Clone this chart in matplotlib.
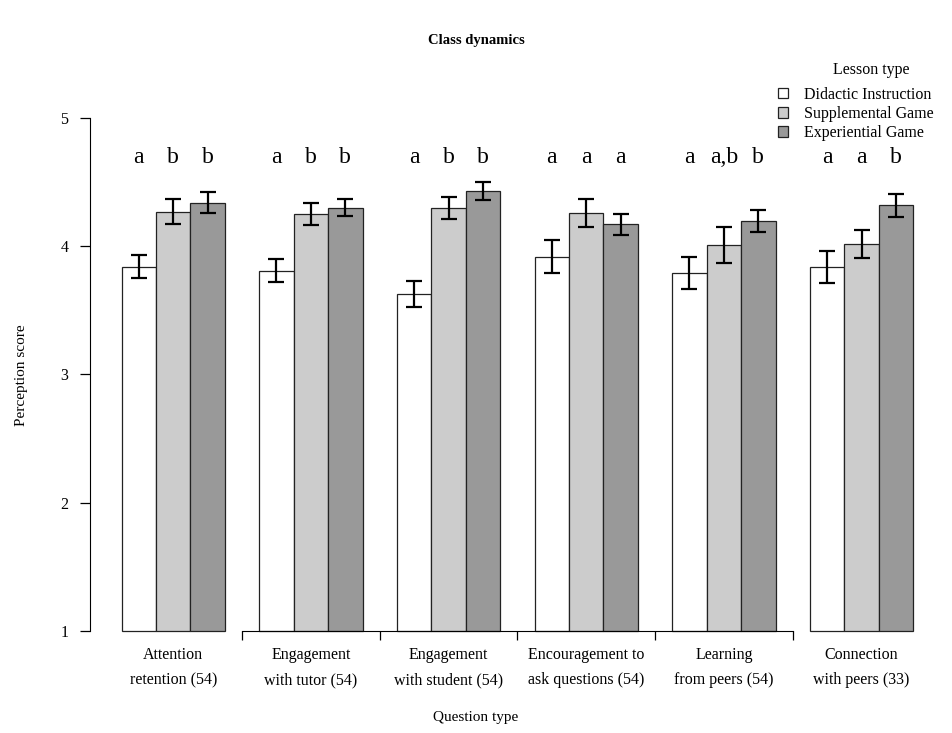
import matplotlib

matplotlib.use("Agg")

import matplotlib.pyplot as plt
import numpy as np
from matplotlib.patches import Patch

plt.rcParams["font.family"] = ["Liberation Serif", "DejaVu Serif"]

questions = [
    "Attention\nretention (54)",
    "Engagement\nwith tutor (54)",
    "Engagement\nwith student (54)",
    "Encouragement to\nask questions (54)",
    "Learning\nfrom peers (54)",
    "Connection\nwith peers (33)",
]
lesson_types = ["Didactic Instruction", "Supplemental Game", "Experiential Game"]

didactic_mean = [3.84, 3.81, 3.63, 3.92, 3.79, 3.84]
supplemental_mean = [4.27, 4.25, 4.30, 4.26, 4.01, 4.02]
experiential_mean = [4.34, 4.30, 4.43, 4.17, 4.20, 4.32]

didactic_se = [0.09, 0.09, 0.10, 0.125, 0.125, 0.125]
supplemental_se = [0.10, 0.085, 0.085, 0.11, 0.14, 0.11]
experiential_se = [0.08, 0.065, 0.07, 0.085, 0.085, 0.09]

letters = [
    ["a", "b", "b"],
    ["a", "b", "b"],
    ["a", "b", "b"],
    ["a", "a", "a"],
    ["a", "a,b", "b"],
    ["a", "a", "b"],
]

fills = ["#FFFFFF", "#CCCCCC", "#999999"]

fig = plt.figure(figsize=(9.52, 7.33), dpi=100)
ax = fig.add_axes([0.0945, 0.1112, 0.898, 0.7558])
ax.set_xlim(0.08, 24.92)
ax.set_ylim(0.84, 5.16)

means = [didactic_mean, supplemental_mean, experiential_mean]
errors = [didactic_se, supplemental_se, experiential_se]
group_left = np.arange(len(questions)) * 4 + 1

# grouped bars: three bars per question, one bar-width gap between groups
for k in range(3):
    x = group_left + k + 0.5
    heights = np.array(means[k]) - 1
    ax.bar(x, heights, width=1.0, bottom=1, color=fills[k],
           edgecolor="#222222", linewidth=0.9, zorder=2)
    ax.errorbar(x, means[k], yerr=errors[k], fmt="none", ecolor="black",
                elinewidth=1.6, capsize=5.5, capthick=1.6, zorder=3)

# significance letters above each bar
for g in range(len(questions)):
    for k in range(3):
        ax.text(group_left[g] + k + 0.5, 4.65, letters[g][k], ha="center",
                va="baseline", fontsize=17)

# axes in base-graphics style
for side in ["top", "right"]:
    ax.spines[side].set_visible(False)
ax.spines["left"].set_bounds(1, 5)
ax.spines["bottom"].set_position(("data", 1))
ax.spines["bottom"].set_bounds(4.5, 20.5)
ax.set_yticks([1, 2, 3, 4, 5])
ax.set_yticklabels(["1", "2", "3", "4", "5"], fontsize=11.5)
ax.tick_params(axis="y", length=7.5, width=0.9, pad=8)
ax.set_xticks(np.arange(4.5, 21, 4))
ax.set_xticklabels([])
ax.tick_params(axis="x", length=6.5, width=0.9)

for g, label in enumerate(questions):
    ax.text(group_left[g] + 1.5, 0.875, label, ha="center", va="top",
            fontsize=11.5, linespacing=1.75)

fig.text(0.5, 0.945, "Class dynamics", ha="center", va="center",
         fontsize=10.5, fontweight="bold")
fig.text(0.5, 0.021, "Question type", ha="center", va="center", fontsize=11)
fig.text(0.023, 0.488, "Perception score", ha="center", va="center",
         rotation=90, fontsize=11)

# legend with its heading placed separately, centred over the labels
fig.text(871 / 952, 1 - 70 / 733, "Lesson type", ha="center", va="center",
         fontsize=11.5)
handles = [Patch(facecolor=c, edgecolor="#222222", linewidth=0.9) for c in fills]
fig.legend(handles, lesson_types, loc="upper left",
           bbox_to_anchor=(0.8175, 0.8815), frameon=False, fontsize=11.5,
           handlelength=0.63, handleheight=0.63,
           handletextpad=1.0, labelspacing=0.2, borderpad=0, borderaxespad=0)

fig.savefig("out.png", dpi=100, facecolor="white")
